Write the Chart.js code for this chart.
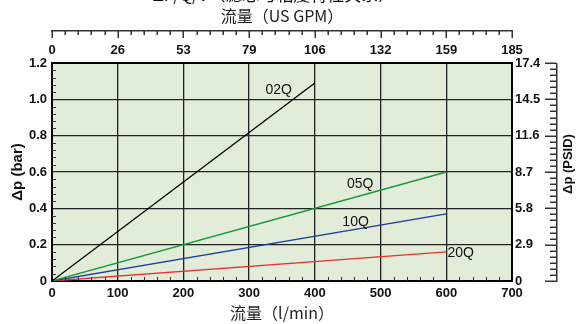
<!DOCTYPE html>
<html>
<head>
<meta charset="utf-8">
<script src="https://cdn.jsdelivr.net/npm/chart.js@4.4.0/dist/chart.umd.min.js"></script>
<style>
    html, body { margin: 0; padding: 0; background: #fff; }
    #chart { display: block; }
</style>
</head>
<body>
<canvas id="chart" width="577" height="324"></canvas>
<script>
/* pressure drop vs flow, four element grades */

// axis tick labels
const gpmLabels = ['0', '26', '53', '79', '106', '132', '159', '185'];
const psiLabels = ['0', '2.9', '5.8', '8.7', '11.6', '14.5', '17.4'];

// series (flow l/min, dp bar)
const q02Flow = [0, 400];
const q02Dp = [0, 1.09];
const q05Flow = [0, 600];
const q05Dp = [0, 0.6];
const q10Flow = [0, 600];
const q10Dp = [0, 0.37];
const q20Flow = [0, 600];
const q20Dp = [0, 0.16];

const FONT = "'Liberation Sans', Arial, sans-serif";
const CJK = "'Noto Sans CJK SC', 'Noto Sans', sans-serif";
const COLORS = {
    bg: '#e1ecd9',
    grid: '#222',
    axis: '#333',
    q02: '#000000',
    q05: '#17993a',
    q10: '#1d3c9e',
    q20: '#e8322b',
};

function pts(xs, ys) {
    return xs.map((x, i) => ({ x, y: ys[i] }));
}

// where the series names sit (data units)
const seriesTags = [
    { text: '02Q', x: 345, y: 1.052 },
    { text: '05Q', x: 469, y: 0.534 },
    { text: '10Q', x: 462, y: 0.325 },
    { text: '20Q', x: 622, y: 0.151 },
];

const plotBg = {
    id: 'plotBg',
    beforeDraw(chart) {
        const { ctx, chartArea: a } = chart;
        ctx.save();
        ctx.fillStyle = COLORS.bg;
        ctx.fillRect(a.left, a.top, a.right - a.left, a.bottom - a.top);
        ctx.restore();
    },
};

const extras = {
    id: 'extras',
    afterDraw(chart) {
        const { ctx, chartArea: a, scales } = chart;
        const x = scales.x, y = scales.y;
        ctx.save();

        // minor ticks inside the plot (left + bottom)
        ctx.fillStyle = COLORS.axis;
        for (let v = 0; v <= 700; v += 20) {
            if (v % 100 === 0) continue;
            const px = Math.round(x.getPixelForValue(v));
            ctx.fillRect(px, a.bottom - 4, 1, 4);
        }
        for (let i = 0; i <= 30; i++) {
            if (i % 5 === 0) continue;
            const py = Math.round(y.getPixelForValue(i * 0.04));
            ctx.fillRect(a.left, py, 4, 1);
        }

        // detached GPM axis on top
        const topY = 30;
        ctx.fillRect(a.left - 1, topY, a.right - a.left + 2, 1.5);
        for (let i = 0; i <= 35; i++) {
            const px = Math.round(x.getPixelForValue(i * 20));
            ctx.fillRect(px - 0.5, topY, 1.5, i % 5 === 0 ? 8 : 5);
        }

        // detached PSID axis on the right
        const rx = 556;
        ctx.fillRect(rx, a.top, 1.5, a.bottom - a.top + 1);
        for (let i = 0; i <= 36; i++) {
            const py = Math.round(y.getPixelForValue(i * 0.2 / 6));
            const len = i % 6 === 0 ? 11 : 6;
            ctx.fillRect(rx - len, py - 0.5, len, 1.5);
        }

        // series names
        ctx.fillStyle = '#111';
        ctx.font = '14px ' + FONT;
        ctx.textAlign = 'center';
        ctx.textBaseline = 'middle';
        seriesTags.forEach(t => {
            ctx.fillText(t.text, x.getPixelForValue(t.x), y.getPixelForValue(t.y));
        });

        // right axis title
        ctx.font = 'bold 13px ' + FONT;
        ctx.translate(568, 164);
        ctx.rotate(-Math.PI / 2);
        ctx.fillText('Δp (PSID)', 0, 0);
        ctx.setTransform(1, 0, 0, 1, 0, 0);

        // chart title, clipped by the top edge
        ctx.font = '17px ' + CJK;
        ctx.textBaseline = 'alphabetic';
        ctx.fillText('ΔP/Q/V（滤芯与粘度特性关系）', 274, 1);

        ctx.restore();
    },
};

const tickFont = { family: FONT, size: 13, weight: 'bold' };
const border = { display: true, color: '#000', width: 2 };

new Chart(document.getElementById('chart'), {
    type: 'line',
    data: {
        datasets: [
            { label: '02Q', data: pts(q02Flow, q02Dp), borderColor: COLORS.q02 },
            { label: '05Q', data: pts(q05Flow, q05Dp), borderColor: COLORS.q05 },
            { label: '10Q', data: pts(q10Flow, q10Dp), borderColor: COLORS.q10 },
            { label: '20Q', data: pts(q20Flow, q20Dp), borderColor: COLORS.q20 },
        ],
    },
    options: {
        responsive: false,
        animation: false,
        layout: { padding: 0 },
        elements: {
            line: { borderWidth: 1.3, tension: 0 },
            point: { radius: 0 },
        },
        plugins: {
            legend: { display: false },
            tooltip: { enabled: false },
        },
        scales: {
            x: {
                type: 'linear', position: 'bottom', min: 0, max: 700,
                afterFit: s => { s.height = 43; },
                grid: { color: COLORS.grid, lineWidth: 1.3, drawTicks: false },
                border,
                ticks: { stepSize: 100, padding: 5, color: '#111', font: tickFont, maxRotation: 0 },
                title: {
                    display: true, text: '流量（l/min）', color: '#222',
                    font: { family: CJK, size: 16 }, padding: { top: 0, bottom: 1 },
                },
            },
            xTop: {
                type: 'linear', position: 'top', min: 0, max: 700,
                afterFit: s => { s.height = 63; },
                grid: { display: false, drawTicks: false },
                border,
                ticks: {
                    stepSize: 100, padding: 5, color: '#111', font: tickFont, maxRotation: 0,
                    callback: (v, i) => gpmLabels[i],
                },
                title: {
                    display: true, text: '流量（US GPM）', color: '#222',
                    font: { family: CJK, size: 16 }, padding: { top: 6, bottom: 0 },
                },
            },
            y: {
                type: 'linear', position: 'left', min: 0, max: 1.2,
                afterFit: s => { s.width = 52; },
                grid: { color: COLORS.grid, lineWidth: 1.3, drawTicks: false },
                border,
                ticks: { stepSize: 0.2, padding: 5, color: '#111', font: tickFont },
                title: {
                    display: true, text: 'Δp (bar)', color: '#111',
                    font: { family: FONT, size: 15, weight: 'bold' }, padding: { top: 9, bottom: 0 },
                },
            },
            yRight: {
                type: 'linear', position: 'right', min: 0, max: 1.2,
                afterFit: s => { s.width = 65; },
                grid: { display: false, drawTicks: false },
                border,
                ticks: {
                    stepSize: 0.2, padding: 3, color: '#111', font: tickFont,
                    callback: (v, i) => psiLabels[i],
                },
            },
        },
    },
    plugins: [plotBg, extras],
});
</script>
</body>
</html>
